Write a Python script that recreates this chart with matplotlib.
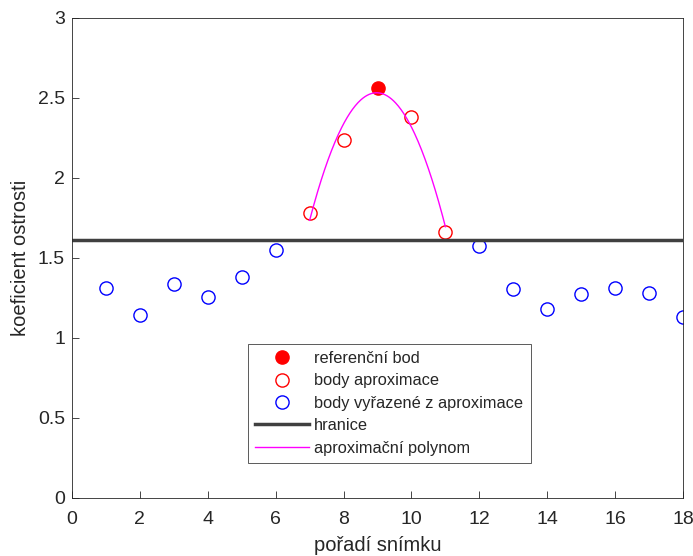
import numpy as np
from matplotlib import pyplot as plt

plt.rcParams['font.family'] = ['Liberation Sans', 'DejaVu Sans']
plt.rcParams['text.color'] = '#262626'
plt.rcParams['axes.labelcolor'] = '#262626'
plt.rcParams['xtick.color'] = '#262626'
plt.rcParams['ytick.color'] = '#262626'

# reference point
ref_x = [9]
ref_y = [2.56]

# points used for approximation
apr_x = [7, 8, 10, 11]
apr_y = [1.78, 2.24, 2.38, 1.66]

# points excluded from approximation
exc_x = [1, 2, 3, 4, 5, 6, 12, 13, 14, 15, 16, 17, 18]
exc_y = [1.31, 1.145, 1.335, 1.255, 1.38, 1.55, 1.575, 1.305, 1.18, 1.275, 1.31, 1.28, 1.13]

threshold = 1.61

# quadratic fit through reference + approximation points
fit_x = np.array(apr_x[:2] + ref_x + apr_x[2:], dtype=float)
fit_y = np.array(apr_y[:2] + ref_y + apr_y[2:])
coef = np.polyfit(fit_x, fit_y, 2)
xs = np.linspace(fit_x.min(), fit_x.max(), 200)

fig = plt.figure(figsize=(6.93, 5.56), dpi=100)
ax = fig.add_axes([72/693, 1-498/556, 611/693, 480/556])

ms = 9.5
ax.plot(ref_x, ref_y, 'o', color='red', markersize=ms, label='referenční bod')
ax.plot(apr_x, apr_y, 'o', mfc='none', mec='red', markersize=ms, label='body aproximace')
ax.plot(exc_x, exc_y, 'o', mfc='none', mec='blue', markersize=ms, label='body vyřazené z aproximace')
ax.axhline(threshold, color='#404040', lw=2.5, label='hranice')
ax.plot(xs, np.polyval(coef, xs), color='magenta', lw=1, label='aproximační polynom')

ax.set_xlim(0, 18)
ax.set_ylim(0, 3)
ax.set_xticks(range(0, 19, 2))
ax.set_yticks([0, 0.5, 1, 1.5, 2, 2.5, 3])
ax.set_yticklabels(['0', '0.5', '1', '1.5', '2', '2.5', '3'])
ax.tick_params(direction='in', labelsize=14, length=5, width=0.6)
ax.tick_params(axis='x', pad=9)
ax.tick_params(axis='y', pad=5)
for s in ax.spines.values():
    s.set_linewidth(0.6)
    s.set_color('#262626')
ax.set_xlabel('pořadí snímku', fontsize=14.5, labelpad=6)
ax.set_ylabel('koeficient ostrosti', fontsize=14.5, labelpad=6)

leg = ax.legend(loc='lower left', bbox_to_anchor=(0.288, 0.073), borderaxespad=0,
                fontsize=11.8, fancybox=False, framealpha=1, edgecolor='#404040',
                handlelength=3.3, handletextpad=0.3, borderpad=0.45,
                labelspacing=0.45)
leg.get_frame().set_linewidth(0.6)

plt.savefig('out.png', dpi=100)
